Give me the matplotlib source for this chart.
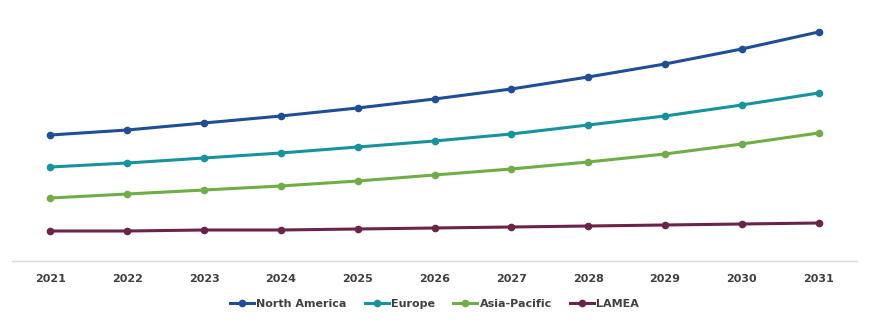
import matplotlib
matplotlib.use("Agg")
import matplotlib.pyplot as plt

years = ['2021', '2022', '2023', '2024', '2025', '2026', '2027', '2028', '2029', '2030', '2031']

# values (no y scale shown, arbitrary units)
north_america = [126, 131, 138, 145, 153, 162, 172, 184, 197, 212, 229]
europe = [94, 98, 103, 108, 114, 120, 127, 136, 145, 156, 168]
asia_pacific = [63, 67, 71, 75, 80, 86, 92, 99, 107, 117, 128]
lamea = [30, 30, 31, 31, 32, 33, 34, 35, 36, 37, 38]

series = [
    ('North America', north_america, '#1f4e96'),
    ('Europe', europe, '#17939d'),
    ('Asia-Pacific', asia_pacific, '#70ad47'),
    ('LAMEA', lamea, '#6b2449'),
]

fig = plt.figure(figsize=(8.74, 3.23), dpi=100)
ax = fig.add_axes([12 / 874, 62 / 323, 845 / 874, 246 / 323])

x = list(range(len(years)))
for name, vals, col in series:
    ax.plot(x, vals, color=col, lw=2.2, marker='o', ms=4.5, label=name)

ax.set_xlim(-0.5, 10.5)
ax.set_ylim(0, 246)
ax.set_xticks(x)
ax.set_xticklabels(years, fontsize=8, fontweight='bold', color='#404040')
ax.tick_params(axis='x', length=0, pad=9)
ax.set_yticks([])
for s in ['top', 'right', 'left']:
    ax.spines[s].set_visible(False)
ax.spines['bottom'].set_color('#d9d9d9')
ax.spines['bottom'].set_linewidth(1)

ax.legend(loc='center', bbox_to_anchor=(0.5, -0.175), ncol=4, frameon=False,
          prop={'size': 8, 'weight': 'bold'}, labelcolor='#404040',
          handlelength=2.2, handletextpad=0.2, columnspacing=1.6)

fig.savefig('out.png', dpi=100)
